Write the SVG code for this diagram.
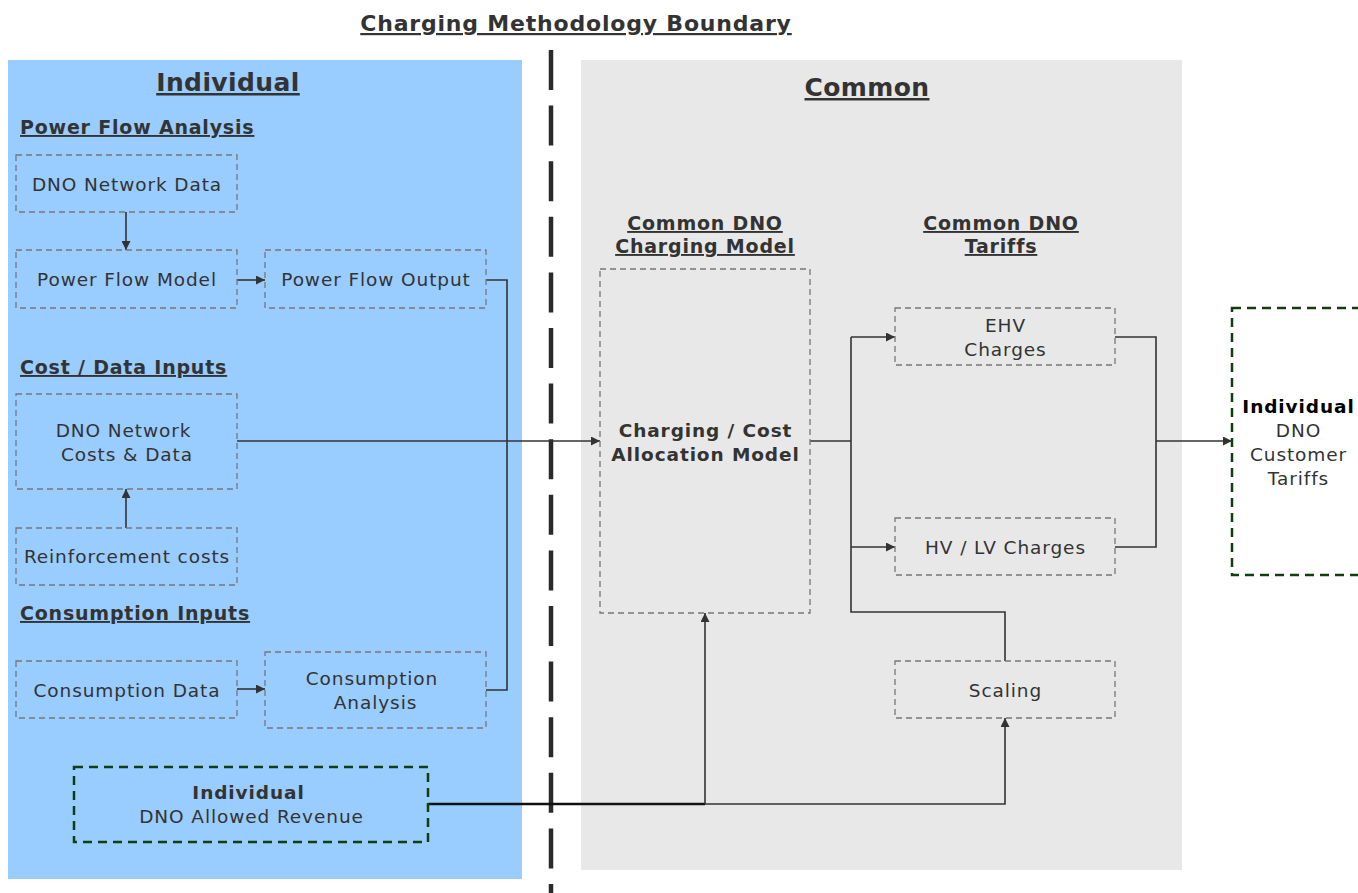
<svg xmlns="http://www.w3.org/2000/svg" width="1358" height="893" viewBox="0 0 1358 893">
  <style>
    text { font-family: "DejaVu Sans", Verdana, sans-serif; fill: #333333; }
    .title { font-size: 22px; font-weight: bold; text-decoration: underline; letter-spacing: 0.8px; }
    .h1 { font-size: 25px; font-weight: bold; text-decoration: underline; letter-spacing: 0.4px; }
    .h2 { font-size: 19px; font-weight: bold; text-decoration: underline; letter-spacing: 0.8px; }
    .lbl { font-size: 18.5px; text-anchor: middle; letter-spacing: 0.9px; }
    .bold { font-weight: bold; }
    .box { fill: none; stroke: #777777; stroke-width: 1.3; stroke-dasharray: 6 4; }
    .gbox { fill: none; stroke: #0f3f0f; stroke-width: 2.5; stroke-dasharray: 9 6; }
    .wire { fill: none; stroke: #333333; stroke-width: 1.6; }
    .wire-b { fill: none; stroke: #111111; stroke-width: 2.4; }
  </style>
  <defs>
    <marker id="arr" viewBox="0 0 10 10" refX="10" refY="5" markerWidth="9" markerHeight="9" markerUnits="userSpaceOnUse" orient="auto">
      <path d="M0,0 L10,5 L0,10 Z" fill="#333333"/>
    </marker>
  </defs>

  <rect width="1358" height="893" fill="#ffffff"/>

  <!-- panels -->
  <g id="panel-individual">
    <rect x="8" y="60" width="514" height="819" fill="#99ccff"/>
    <text class="h1" x="228" y="91" text-anchor="middle">Individual</text>
    <text class="h2" x="20" y="134">Power Flow Analysis</text>
    <text class="h2" x="20" y="374">Cost / Data Inputs</text>
    <text class="h2" x="20" y="620">Consumption Inputs</text>
  </g>
  <g id="panel-common">
    <rect x="581" y="60" width="601" height="810" fill="#e8e8e8"/>
    <text class="h1" x="867" y="96" text-anchor="middle">Common</text>
    <text class="h2" x="705" y="230" text-anchor="middle">Common DNO</text>
    <text class="h2" x="705" y="253" text-anchor="middle">Charging Model</text>
    <text class="h2" x="1001" y="230" text-anchor="middle">Common DNO</text>
    <text class="h2" x="1001" y="253" text-anchor="middle">Tariffs</text>
  </g>

  <!-- boundary -->
  <g id="boundary">
    <text class="title" x="576" y="31" text-anchor="middle">Charging Methodology Boundary</text>
    <line x1="551" y1="50" x2="551" y2="893" stroke="#2a2a2a" stroke-width="4.5" stroke-dasharray="40 15.6"/>
  </g>

  <!-- connectors -->
  <g id="connectors">
    <path class="wire" d="M126,212 V250" marker-end="url(#arr)"/>
    <path class="wire" d="M237,280 H265" marker-end="url(#arr)"/>
    <path class="wire" d="M486,280 H507 V690 H486"/>
    <path class="wire" d="M126,528 V489" marker-end="url(#arr)"/>
    <path class="wire" d="M237,441 H600" marker-end="url(#arr)"/>
    <path class="wire" d="M237,689 H265" marker-end="url(#arr)"/>
    <path class="wire-b" d="M428,804 H705"/>
    <path class="wire" d="M705,804 V613" marker-end="url(#arr)"/>
    <path class="wire" d="M705,804 H1005 V718" marker-end="url(#arr)"/>
    <path class="wire" d="M810,441 H851"/>
    <path class="wire" d="M851,337 V612 H1005 V661"/>
    <path class="wire" d="M851,337 H895" marker-end="url(#arr)"/>
    <path class="wire" d="M851,547 H895" marker-end="url(#arr)"/>
    <path class="wire" d="M1115,337 H1156 V547 H1115"/>
    <path class="wire" d="M1156,441 H1232" marker-end="url(#arr)"/>
  </g>

  <!-- nodes -->
  <g id="dno-network-data">
    <rect class="box" x="16" y="155" width="221" height="57"/>
    <text class="lbl" x="127" y="191">DNO Network Data</text>
  </g>
  <g id="power-flow-model">
    <rect class="box" x="16" y="250" width="221" height="58"/>
    <text class="lbl" x="127" y="286">Power Flow Model</text>
  </g>
  <g id="power-flow-output">
    <rect class="box" x="265" y="250" width="221" height="58"/>
    <text class="lbl" x="376" y="286">Power Flow Output</text>
  </g>
  <g id="dno-network-costs">
    <rect class="box" x="16" y="394" width="221" height="95"/>
    <text class="lbl" x="123.5" y="437">DNO Network</text>
    <text class="lbl" x="127" y="461">Costs &amp; Data</text>
  </g>
  <g id="reinforcement-costs">
    <rect class="box" x="16" y="528" width="221" height="57"/>
    <text class="lbl" x="127" y="563">Reinforcement costs</text>
  </g>
  <g id="consumption-data">
    <rect class="box" x="16" y="661" width="221" height="57"/>
    <text class="lbl" x="127" y="697">Consumption Data</text>
  </g>
  <g id="consumption-analysis">
    <rect class="box" x="265" y="652" width="221" height="76"/>
    <text class="lbl" x="372" y="685">Consumption</text>
    <text class="lbl" x="375.5" y="709">Analysis</text>
  </g>
  <g id="allowed-revenue">
    <rect class="gbox" x="74" y="767" width="354" height="75"/>
    <text class="lbl bold" x="248.5" y="799">Individual</text>
    <text class="lbl" x="251.5" y="823">DNO Allowed Revenue</text>
  </g>
  <g id="charging-model">
    <rect class="box" x="600" y="269" width="210" height="344"/>
    <text class="lbl bold" x="705.5" y="437">Charging / Cost</text>
    <text class="lbl bold" x="705.5" y="461">Allocation Model</text>
  </g>
  <g id="ehv-charges">
    <rect class="box" x="895" y="308" width="220" height="57"/>
    <text class="lbl" x="1005.5" y="332">EHV</text>
    <text class="lbl" x="1005.5" y="356">Charges</text>
  </g>
  <g id="hv-lv-charges">
    <rect class="box" x="895" y="518" width="220" height="57"/>
    <text class="lbl" x="1005.5" y="554">HV / LV Charges</text>
  </g>
  <g id="scaling">
    <rect class="box" x="895" y="661" width="220" height="57"/>
    <text class="lbl" x="1005.5" y="697">Scaling</text>
  </g>
  <g id="customer-tariffs">
    <rect class="gbox" x="1232" y="308" width="140" height="267"/>
    <text class="lbl bold" x="1298.5" y="413" style="fill:#000000">Individual</text>
    <text class="lbl" x="1298.5" y="437">DNO</text>
    <text class="lbl" x="1298.5" y="461">Customer</text>
    <text class="lbl" x="1298.5" y="485">Tariffs</text>
  </g>
</svg>
